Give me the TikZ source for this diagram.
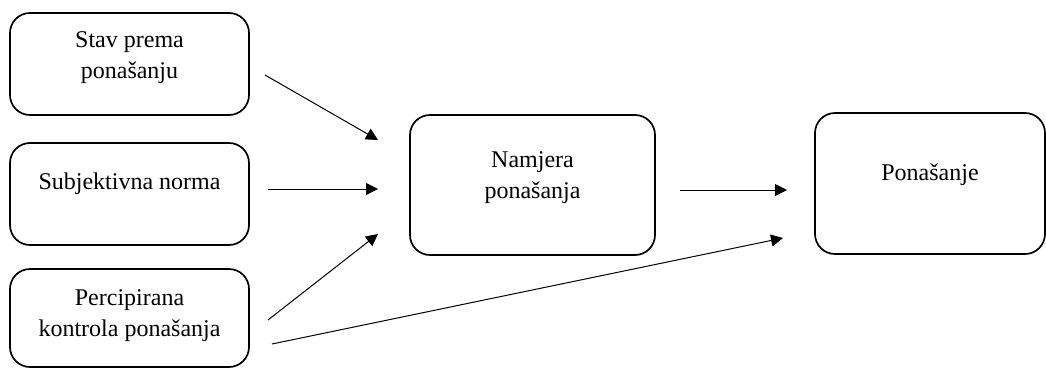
\documentclass[tikz,border=0pt]{standalone}
\usepackage{fontspec}
\setmainfont{Liberation Serif}
\usetikzlibrary{arrows.meta}
\begin{document}
\begin{tikzpicture}[x=1pt,y=-1pt,
  box/.style={draw=black, line width=1.7pt, rounded corners=20pt, inner sep=0pt},
  lbl/.style={align=center, inner sep=0pt, font=\fontsize{24}{31}\selectfont},
  arr/.style={line width=1pt, -{Triangle[length=12pt,width=12pt]}}]
\useasboundingbox (0,0) rectangle (1046,367);
% boxes
\node[box, minimum width=239pt, minimum height=102pt] (b1) at (129.5,64) {};
\node[box, minimum width=239pt, minimum height=102pt] (b2) at (129.5,194) {};
\node[box, minimum width=239pt, minimum height=98pt] (b3) at (129.5,318) {};
\node[box, minimum width=245pt, minimum height=140pt] (n) at (532.5,185) {};
\node[box, minimum width=230pt, minimum height=141pt] (p) at (930,183.5) {};
% texts
\node[lbl] (t1) at (129.5,58) {Stav prema\\ponašanju};
\node[lbl] (t2) at (129.5,184) {Subjektivna norma};
\node[lbl] (t3) at (129.5,316) {Percipirana\\kontrola ponašanja};
\node[lbl] (tn) at (532.5,177.5) {Namjera\\ponašanja};
\node[lbl] (tp) at (930,175) {Ponašanje};
% arrow end points
\coordinate (a1s) at (265,75);  \coordinate (a1e) at (378,140);
\coordinate (a2s) at (268,189); \coordinate (a2e) at (378,189);
\coordinate (a3s) at (268,320); \coordinate (a3e) at (378,234);
\coordinate (a4s) at (272,344); \coordinate (a4e) at (783,238);
\coordinate (a5s) at (680,190); \coordinate (a5e) at (787,190);
\draw[arr] (a1s) -- (a1e);
\draw[arr] (a2s) -- (a2e);
\draw[arr] (a3s) -- (a3e);
\draw[arr] (a4s) -- (a4e);
\draw[arr] (a5s) -- (a5e);
\end{tikzpicture}
\end{document}
